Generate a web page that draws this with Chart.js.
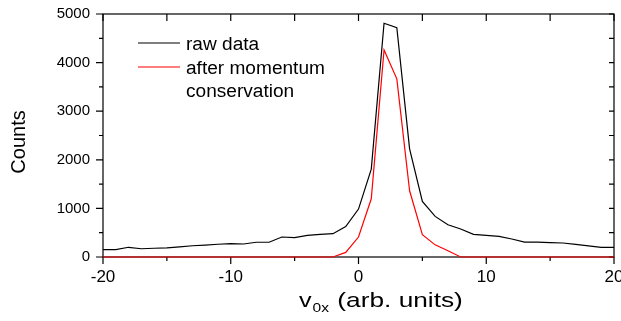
<!DOCTYPE html>
<html>
<head>
<meta charset="utf-8">
<script src="https://cdn.jsdelivr.net/npm/chart.js@4.4.1/dist/chart.umd.min.js"></script>
<style>
  html, body { margin: 0; padding: 0; background: #fff; }
  #wrap { width: 621px; height: 321px; }
</style>
</head>
<body>
<div id="wrap"><canvas id="chart" width="621" height="321"></canvas></div>
<script>
// velocity bins (arb. units)
const vx = [-20, -19, -18, -17, -16, -15, -14, -13, -12, -11, -10, -9, -8, -7, -6, -5, -4, -3, -2, -1,
            0, 1, 2, 3, 4, 5, 6, 7, 8, 9, 10, 11, 12, 13, 14, 15, 16, 17, 18, 19, 20];
// counts per bin, raw
const rawCounts = [150, 150, 200, 170, 180, 188, 210, 232, 245, 262, 276, 268, 304, 304, 411, 397, 444, 465, 479, 627,
                   986, 1808, 4809, 4719, 2226, 1143, 835, 664, 575, 465, 444, 423, 370, 308, 305, 295, 288, 260, 230, 197, 197];
// counts per bin after the momentum cut
const corrCounts = [0, 0, 0, 0, 0, 0, 0, 0, 0, 0, 0, 0, 0, 0, 0, 0, 0, 0, 0, 95,
                    411, 1198, 4260, 3665, 1363, 458, 250, 130, 0, 0, 0, 0, 0, 0, 0, 0, 0, 0, 0, 0, 0];
const xLabels = [-20, -10, 0, 10, 20];
const yLabels = [0, 1000, 2000, 3000, 4000, 5000];
const seriesNames = ['raw data', 'after momentum', 'conservation'];

const FONT = "'Liberation Sans', Arial, sans-serif";

// text squeezed/stretched horizontally
function drawText(ctx, str, x, y, size, sx, align) {
    ctx.save();
    ctx.font = size + 'px ' + FONT;
    ctx.textBaseline = 'alphabetic';
    const w = ctx.measureText(str).width * sx;
    let x0 = x;
    if (align === 'center') x0 = x - w / 2;
    if (align === 'right') x0 = x - w;
    ctx.translate(x0, y);
    ctx.scale(sx, 1);
    ctx.textAlign = 'left';
    ctx.fillText(str, 0, 0);
    ctx.restore();
    return w;
}

// box, tick marks, axis titles and legend
const framePlugin = {
    id: 'frame',
    beforeDatasetsDraw(chart) {
        const { ctx, chartArea: a, scales: { x, y } } = chart;
        ctx.save();
        ctx.strokeStyle = '#000';
        ctx.lineWidth = 1.2;
        ctx.strokeRect(a.left, a.top, a.right - a.left, a.bottom - a.top);
        ctx.beginPath();
        x.ticks.forEach(t => {
            const px = x.getPixelForValue(t.value);
            const major = xLabels.includes(t.value);
            ctx.moveTo(px, a.bottom);
            ctx.lineTo(px, a.bottom + (major ? 7 : 4));
            ctx.moveTo(px, a.top);
            ctx.lineTo(px, a.top + 7);
        });
        y.ticks.forEach(t => {
            const py = y.getPixelForValue(t.value);
            const major = yLabels.includes(t.value);
            ctx.moveTo(a.left, py);
            ctx.lineTo(a.left - (major ? 7 : 4), py);
            ctx.moveTo(a.right, py);
            ctx.lineTo(a.right - 5, py);
        });
        ctx.stroke();
        ctx.restore();
    },
    afterDraw(chart) {
        const { ctx } = chart;
        ctx.save();
        ctx.fillStyle = '#000';

        // y title
        ctx.save();
        ctx.translate(25, 142);
        ctx.rotate(-Math.PI / 2);
        ctx.font = '20px ' + FONT;
        ctx.textAlign = 'center';
        ctx.textBaseline = 'alphabetic';
        ctx.fillText('Counts', 0, 0);
        ctx.restore();

        // x title with subscript
        let cx = 299;
        cx += drawText(ctx, 'v', cx, 307, 21, 1.2, 'left');
        cx += drawText(ctx, '0x', cx + 1, 312, 13, 1.2, 'left');
        drawText(ctx, ' (arb. units)', cx + 2, 307, 21, 1.25, 'left');

        // legend
        const sw = [['#000', 43], ['#ff0000', 67]];
        ctx.lineWidth = 1.2;
        sw.forEach(([c, yy]) => {
            ctx.strokeStyle = c;
            ctx.beginPath();
            ctx.moveTo(138, yy);
            ctx.lineTo(180, yy);
            ctx.stroke();
        });
        drawText(ctx, seriesNames[0], 186, 50, 18, 1.06, 'left');
        drawText(ctx, seriesNames[1], 186, 73.5, 18, 1.06, 'left');
        drawText(ctx, seriesNames[2], 186, 97, 18, 1.06, 'left');
        ctx.restore();
    }
};

new Chart(document.getElementById('chart'), {
    type: 'line',
    data: {
        datasets: [
            {
                label: 'raw data',
                data: vx.map((v, i) => ({ x: v, y: rawCounts[i] })),
                borderColor: '#000',
                borderWidth: 1.2,
                pointRadius: 0,
                tension: 0,
                clip: 3,
                order: 1
            },
            {
                label: 'after momentum conservation',
                data: vx.map((v, i) => ({ x: v, y: corrCounts[i] })),
                borderColor: '#ff0000',
                borderWidth: 1.2,
                pointRadius: 0,
                tension: 0,
                clip: 3,
                order: 0
            }
        ]
    },
    options: {
        responsive: false,
        animation: false,
        devicePixelRatio: 1,
        layout: { padding: { top: 14, right: 7, left: 0, bottom: 0 } },
        plugins: { legend: { display: false }, tooltip: { enabled: false } },
        scales: {
            x: {
                type: 'linear',
                min: -20,
                max: 20,
                grid: { display: false, drawTicks: false },
                border: { display: false },
                ticks: {
                    stepSize: 5,
                    autoSkip: false,
                    maxRotation: 0,
                    padding: 10,
                    color: '#000',
                    font: { family: FONT, size: 17 },
                    callback: v => xLabels.includes(v) ? String(v) : ''
                },
                afterFit: s => { s.height = 64; s.paddingLeft = 0; s.paddingRight = 0; }
            },
            y: {
                min: 0,
                max: 5000,
                grid: { display: false, drawTicks: false },
                border: { display: false },
                ticks: {
                    stepSize: 500,
                    autoSkip: false,
                    padding: 13,
                    color: '#000',
                    font: { family: FONT, size: 15 },
                    callback: v => yLabels.includes(v) ? String(v) : ''
                },
                afterFit: s => { s.width = 103; s.paddingTop = 0; s.paddingBottom = 0; }
            }
        }
    },
    plugins: [framePlugin]
});
</script>
</body>
</html>
